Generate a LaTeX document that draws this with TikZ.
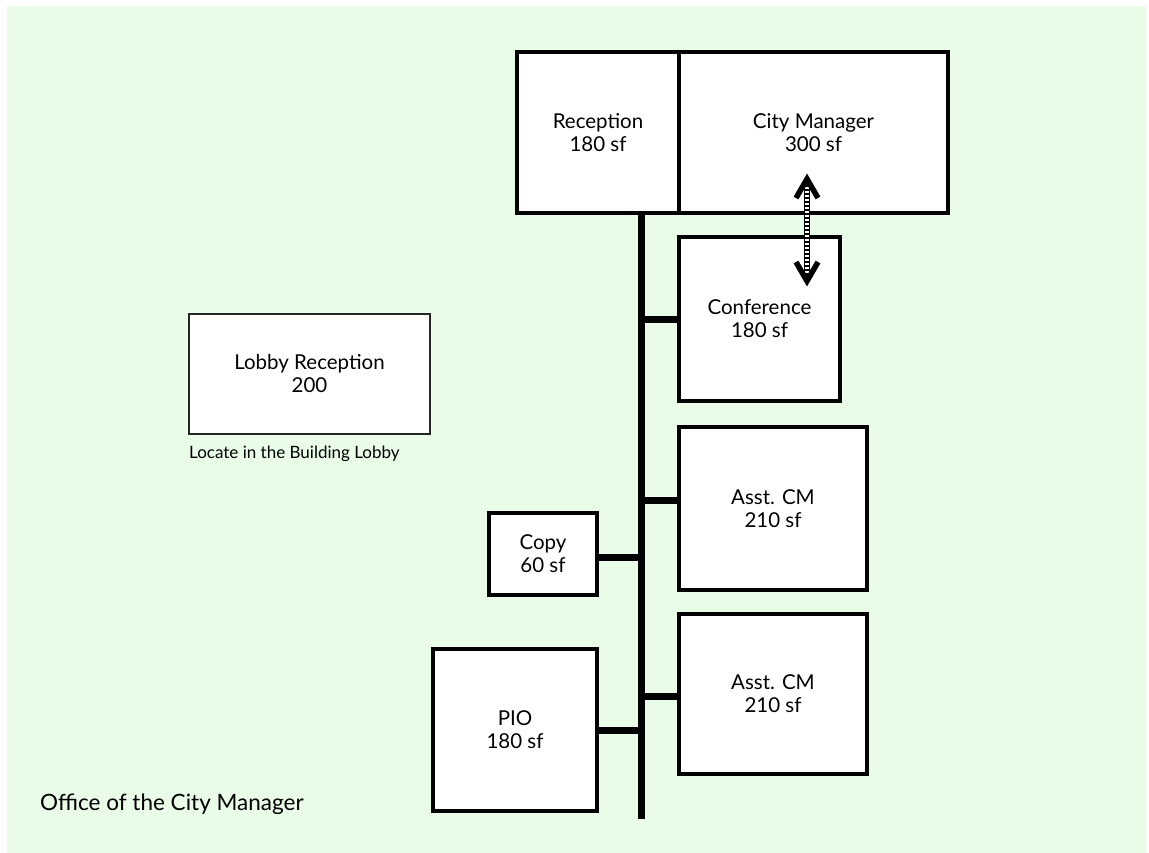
\documentclass[tikz,border=0pt]{standalone}
\usepackage{fontspec}
\setmainfont{Lato}
\usetikzlibrary{calc}
\definecolor{bggreen}{RGB}{232,252,232}
\tikzset{
  room/.style={draw=black, fill=white, line width=3.5pt, rectangle, inner sep=0pt, align=center, font=\fontsize{20.5}{23}\selectfont},
  lobbyroom/.style={draw=black!85, fill=white, line width=2pt, rectangle, inner sep=0pt, align=center, font=\fontsize{20.5}{23}\selectfont},
  bus/.style={line width=7pt, black},
  link/.style={line width=7pt, black},
  note/.style={inner sep=0pt, font=\fontsize{17}{20}\selectfont},
  titletext/.style={inner sep=0pt, font=\fontsize{22.5}{26}\selectfont},
  chev/.style={line width=5.5pt, black, line cap=butt, line join=miter},
}
\begin{document}
\begin{tikzpicture}[x=1pt,y=-1pt]
\useasboundingbox (0,0) rectangle (1149,852);
\fill[white] (0,0) rectangle (1149,852);
\fill[bggreen] (7,6) rectangle (1146,853);

% bus
\coordinate (bustop) at (641,213);
\coordinate (busbot) at (641,819);
\draw[bus] (bustop) -- (busbot);

% rooms
\node[room, minimum width=162pt, minimum height=161pt] (rec) at (598,132.5) {Reception\\180 sf};
\node[room, minimum width=269pt, minimum height=161pt] (cm) at (813.5,132.5) {City Manager\\300 sf};
\node[room, minimum width=161pt, minimum height=164pt] (conf) at (759.5,319) {Conference\\180 sf};
\node[room, minimum width=188pt, minimum height=163pt] (acma) at (773,508.5) {Asst. CM\\210 sf};
\node[room, minimum width=188pt, minimum height=160pt] (acmb) at (773,694) {Asst. CM\\210 sf};
\node[room, minimum width=108pt, minimum height=82pt] (copy) at (543,554) {Copy\\60 sf};
\node[room, minimum width=164pt, minimum height=162pt] (pio) at (515,730) {PIO\\180 sf};
\node[lobbyroom, minimum width=241pt, minimum height=120pt] (lobby) at (309.5,374) {Lobby Reception\\200};

% connector end points on the rooms
\coordinate (acmaend) at ($(acma.west)+(0,-8.5)$);
\coordinate (acmbend) at ($(acmb.west)+(0,2)$);
\coordinate (copyend) at ($(copy.east)+(0,3)$);

% connectors
\draw[link] (conf.west) -- (conf.west -| bustop);
\draw[link] (acmaend) -- (acmaend -| bustop);
\draw[link] (acmbend) -- (acmbend -| bustop);
\draw[link] (copyend) -- (copyend -| bustop);
\draw[link] (pio.east) -- (pio.east -| bustop);

% double arrow between City Manager and Conference
\coordinate (atop) at (807,179);
\coordinate (abot) at (807,281);
\draw[line width=6pt, black] (atop) -- (abot);
\draw[line width=4pt, white, dash pattern=on 2pt off 2pt] ($(atop)+(0,4)$) -- ($(abot)+(0,-4)$);
\draw[chev] ($(atop)+(-11,19)$) -- (atop) -- ($(atop)+(11,19)$);
\draw[chev] ($(abot)+(-11,-19)$) -- (abot) -- ($(abot)+(11,-19)$);

% texts
\node[note, anchor=base west] (locate) at (189,458) {Locate in the Building Lobby};
\node[titletext, anchor=base west] (title) at (40,810) {Office of the City Manager};
\end{tikzpicture}
\end{document}
